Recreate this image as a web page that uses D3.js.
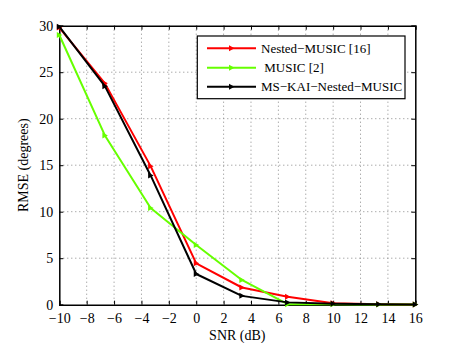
<!DOCTYPE html>
<html>
<head>
<meta charset="utf-8">
<script src="https://cdn.jsdelivr.net/npm/d3@7"></script>
<style>
body { margin: 0; background: #fff; }
</style>
</head>
<body>
<div id="chart"></div>
<script>
// SNR points (dB)
const snr = [-10, -6.67, -3.33, 0, 3.33, 6.67, 10, 13.33, 16];
const nestedMusic = [29.8, 23.8, 14.9, 4.45, 1.85, 0.86, 0.15, 0.05, 0.03];
const music = [29.0, 18.2, 10.4, 6.42, 2.66, 0.05, 0.05, 0.03, 0.02];
const msKai = [29.9, 23.5, 13.9, 3.3, 0.95, 0.25, 0.1, 0.05, 0.03];
const seriesNames = ["Nested\u2212MUSIC [16]", " MUSIC [2]", "MS\u2212KAI\u2212Nested\u2212MUSIC"];
const seriesColors = ["#ff0000", "#66ff00", "#000000"];
const xTicks = [-10, -8, -6, -4, -2, 0, 2, 4, 6, 8, 10, 12, 14, 16];
const yTicks = [0, 5, 10, 15, 20, 25, 30];

const FONT = "'Liberation Serif', 'Times New Roman', Times, serif";
const W = 458, H = 343;
const margin = {top: 25.7, right: 42.7, bottom: 38.3, left: 59.3};
const width = W - margin.left - margin.right;
const height = H - margin.top - margin.bottom;

const svg = d3.select("#chart").append("svg")
  .attr("width", W).attr("height", H);
const g = svg.append("g")
  .attr("transform", "translate(" + margin.left + "," + margin.top + ")");

const x = d3.scaleLinear().domain([-10, 16]).range([0, width]);
const y = d3.scaleLinear().domain([0, 30]).range([height, 0]);

// grid
g.selectAll(".gx").data(xTicks.slice(1, -1)).enter().append("line")
  .attr("x1", d => x(d)).attr("x2", d => x(d))
  .attr("y1", 0).attr("y2", height)
  .attr("stroke", "#888").attr("stroke-width", 1).attr("stroke-dasharray", "1,3");
g.selectAll(".gy").data(yTicks.slice(1, -1)).enter().append("line")
  .attr("x1", 0).attr("x2", width)
  .attr("y1", d => y(d)).attr("y2", d => y(d))
  .attr("stroke", "#888").attr("stroke-width", 1).attr("stroke-dasharray", "1,3");

// axes
const fmt = d => d < 0 ? "\u2212" + Math.abs(d) : d;
g.append("g").attr("transform", "translate(0," + height + ")")
  .call(d3.axisBottom(x).tickValues(xTicks).tickSize(-4).tickPadding(8).tickFormat(fmt));
g.append("g")
  .call(d3.axisLeft(y).tickValues(yTicks).tickSize(-4).tickPadding(6));
g.append("g").call(d3.axisTop(x).tickValues(xTicks).tickSize(-4).tickFormat(""));
g.append("g").attr("transform", "translate(" + width + ",0)")
  .call(d3.axisRight(y).tickValues(yTicks).tickSize(-4).tickFormat(""));
g.selectAll(".domain").attr("stroke", "#000").attr("stroke-width", 1.5);
g.selectAll(".tick line").attr("stroke", "#000");
g.selectAll("g").attr("font-family", FONT).attr("font-size", 14);
g.selectAll(".tick text").attr("fill", "#000");

// lines
const line = d3.line().x((d, i) => x(snr[i])).y(d => y(d));
const tri = "M-2.5,-3L3,0L-2.5,3Z";
[nestedMusic, music, msKai].forEach((vals, k) => {
  g.append("path").datum(vals)
    .attr("fill", "none").attr("stroke", seriesColors[k]).attr("stroke-width", 2)
    .attr("stroke-linejoin", "round").attr("d", line);
  g.selectAll(".m" + k).data(vals).enter().append("path")
    .attr("d", tri).attr("fill", seriesColors[k])
    .attr("transform", (d, i) => "translate(" + x(snr[i]) + "," + y(d) + ")");
});

// legend
const lg = svg.append("g").attr("font-family", FONT);
lg.append("rect").attr("x", 197.3).attr("y", 36).attr("width", 207.7).attr("height", 62.7)
  .attr("fill", "#fff").attr("stroke", "#000").attr("stroke-width", 1.2);
const legendY = [48.3, 67.7, 86.7];
seriesNames.forEach((name, k) => {
  lg.append("line").attr("x1", 207).attr("x2", 256)
    .attr("y1", legendY[k]).attr("y2", legendY[k])
    .attr("stroke", seriesColors[k]).attr("stroke-width", 2);
  lg.append("path").attr("d", tri).attr("fill", seriesColors[k])
    .attr("transform", "translate(231.5," + legendY[k] + ")");
  lg.append("text").attr("x", 261).attr("y", legendY[k]).attr("dy", "0.35em")
    .attr("font-size", 13).style("white-space", "pre")
    .text(name);
});

// axis labels
svg.append("text").attr("x", margin.left + width / 2).attr("y", 339.5)
  .attr("font-family", FONT)
  .attr("text-anchor", "middle").attr("font-size", 14).text("SNR (dB)");
svg.append("text")
  .attr("font-family", FONT)
  .attr("transform", "translate(28," + (margin.top + height / 2) + ") rotate(-90)")
  .attr("text-anchor", "middle").attr("font-size", 14).text("RMSE (degrees)");
</script>
</body>
</html>
